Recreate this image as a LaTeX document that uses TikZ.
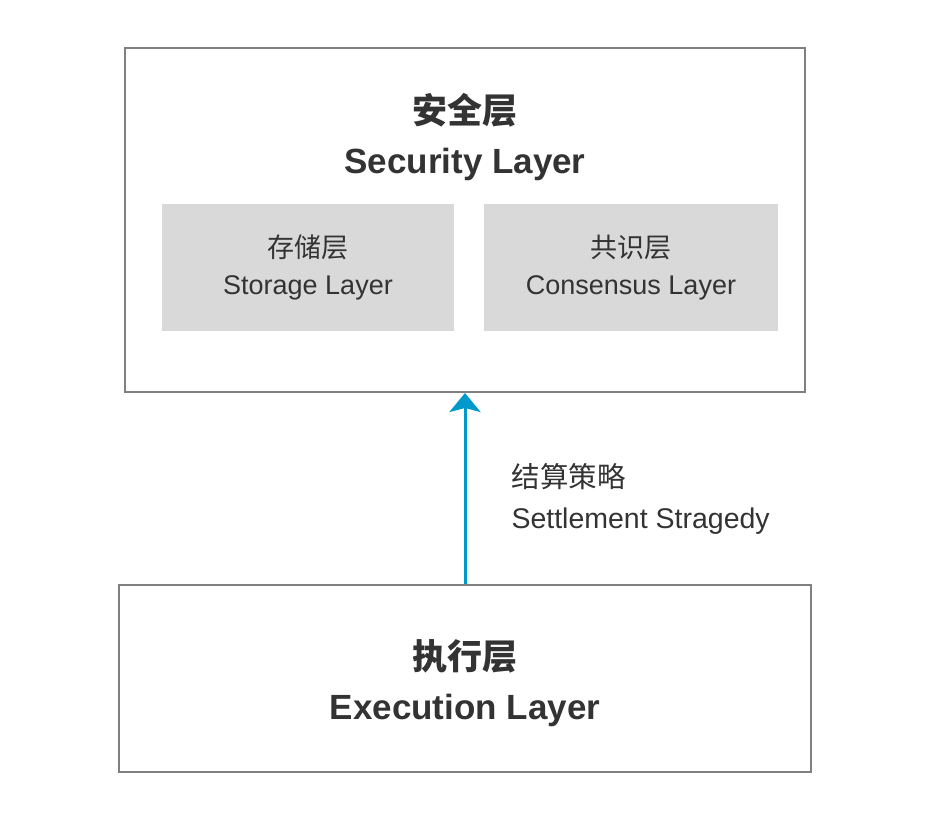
\documentclass[tikz,border=0pt]{standalone}
\usepackage{fontspec}
\setmainfont{Liberation Sans}
\newfontfamily\cjk{Noto Sans CJK SC}
\usetikzlibrary{arrows.meta}
\definecolor{framegray}{RGB}{128,128,128}
\definecolor{subgray}{RGB}{217,217,217}
\definecolor{flowblue}{RGB}{0,153,204}
\definecolor{textdark}{RGB}{51,51,51}

\tikzset{
  layer/.style={rectangle, draw=framegray, line width=2pt, inner sep=0pt},
  sublayer/.style={rectangle, fill=subgray, inner sep=0pt, text=textdark, align=center, font=\fontsize{27}{37}\selectfont},
  layertitle/.style={text=textdark, align=center, font=\bfseries\fontsize{35}{50}\selectfont},
}

\begin{document}
\begin{tikzpicture}[x=1pt, y=-1pt]
\useasboundingbox (0,0) rectangle (930,816);
% Security layer with its two parts
\node[layer, minimum width=680pt, minimum height=344pt] (security) at (465,220) {};
\node[layertitle] (sectitle) at (465,137.5) {{\cjk 安全层}\\Security Layer};
\node[sublayer, minimum width=292pt, minimum height=127pt] (storage) at (308,267.5) {{\cjk 存储层}\\Storage Layer};
\node[sublayer, minimum width=294pt, minimum height=127pt] (consensus) at (631,267.5) {{\cjk 共识层}\\Consensus Layer};

% Execution layer
\node[layer, minimum width=692pt, minimum height=187pt] (exec) at (465,678.5) {};
\node[layertitle] (exectitle) at (465,683.5) {{\cjk 执行层}\\Execution Layer};

% Settlement
\draw[-{Stealth[length=19pt, width=31pt, inset=4pt]}, flowblue, line width=3pt] (exec.north) -- (security.south);
\node[anchor=west, align=left, text=textdark, font=\fontsize{28.5}{41}\selectfont] (strategy) at (508,499) {{\cjk 结算策略}\\Settlement Stragedy};
\end{tikzpicture}
\end{document}
